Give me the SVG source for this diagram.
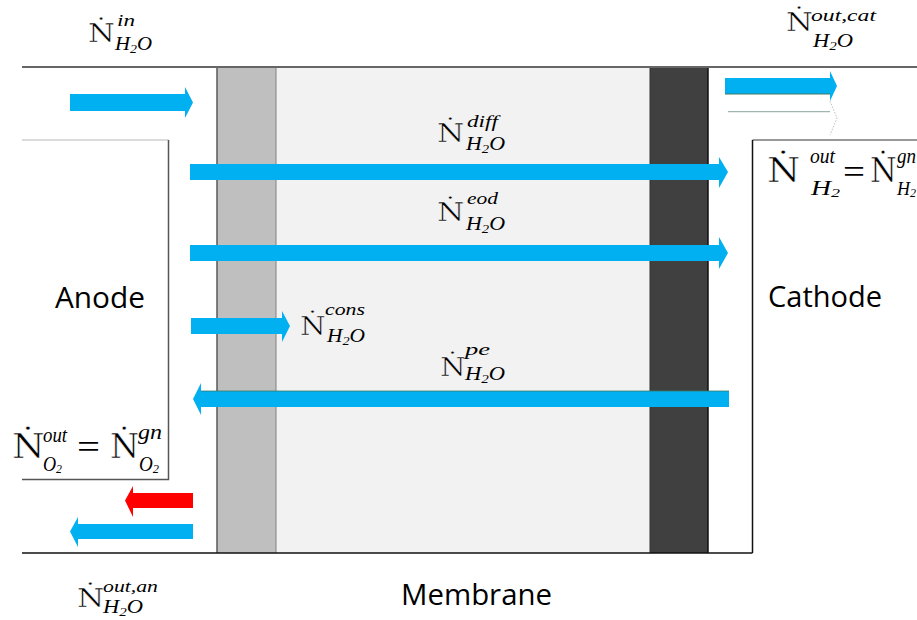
<svg xmlns="http://www.w3.org/2000/svg" width="917" height="620" viewBox="0 0 917 620">
<style>
.m{font-family:"Liberation Serif","Times New Roman",serif;fill:#000}
.i{font-style:italic}
.n{font-family:"DejaVu Serif",serif;fill:#000;font-size:26px;stroke:#fff;stroke-width:0.45px}
.N{font-family:"DejaVu Serif",serif;fill:#000;font-size:34px;stroke:#fff;stroke-width:0.5px}
.s{font-family:"Open Sans","Noto Sans","Liberation Sans",sans-serif;font-size:30px;fill:#000}
.arr{fill:#00b0f0}
.red{fill:#ff0000}
</style>
<rect width="917" height="620" fill="#fff"/>
<g id="layers">
<rect id="anode-gdl" x="217" y="67" width="59" height="486" fill="#bfbfbf"/>
<rect id="membrane" x="276" y="67" width="374" height="486" fill="#f2f2f2"/>
<rect id="cathode-cl" x="650" y="67" width="58" height="486" fill="#404040"/>
<line x1="217" y1="67" x2="217" y2="553" stroke="#595959" stroke-width="1.5"/>
<line x1="276" y1="67" x2="276" y2="553" stroke="#808080" stroke-width="1"/>
<line x1="650" y1="67" x2="650" y2="553" stroke="#333" stroke-width="1"/>
<line x1="708" y1="67" x2="708" y2="553" stroke="#111" stroke-width="1.5"/>
</g>
<g id="walls" fill="none">
<line x1="22" y1="67" x2="917" y2="67" stroke="#666" stroke-width="2"/>
<line x1="22" y1="553" x2="752.5" y2="553" stroke="#111" stroke-width="1.5"/>
<polyline points="22,140 168.5,140" stroke="#cfcfcf" stroke-width="1.5"/>
<polyline points="168.5,140 168.5,479.5 22,479.5" stroke="#555" stroke-width="1.5"/>
<polyline points="917,140 752.5,140" stroke="#777" stroke-width="1.5"/>
<polyline points="752.5,140 752.5,553" stroke="#111" stroke-width="1.5"/>
</g>
<g id="connectors">
<path class="arr" d="M70,94 H185 V87 L193,102.5 L185,118 V111 H70 Z"/>
<path class="arr" d="M190,164 H719 V157 L728,172 L719,188 V180 H190 Z"/>
<path class="arr" d="M190,245 H719 V237 L728,253 L719,269 V261 H190 Z"/>
<path class="arr" d="M191,318 H282 V311 L290,326 L282,342 V334 H191 Z"/>
<path class="arr" d="M729,391 H201 V383 L193,399 L201,415 V407 H729 Z"/>
<line x1="201" y1="391" x2="729" y2="391" stroke="#3f7a66" stroke-width="0.8"/>
<path class="arr" d="M725,78 H830 V71 L837,86 L830,101 V94 H725 Z"/>
<line x1="725" y1="94" x2="830" y2="94" stroke="#3f7a66" stroke-width="1"/>
<line x1="728" y1="111.7" x2="830" y2="111.7" stroke="#9fb8ae" stroke-width="1.2"/>
<polyline points="830,101 837,118 830,135" fill="none" stroke="#b5c2bd" stroke-width="1" stroke-dasharray="1.5,1.5"/>
<path class="red" d="M193,493 H133 V486 L125,500.5 L133,517 V508 H193 Z"/>
<path class="arr" d="M193,524 H78 V517 L70,531.5 L78,547 V539 H193 Z"/>
</g>
<g id="label-in">
<text class="n" transform="translate(88,42) scale(1.18,1)">Ṅ</text>
<text class="m i" x="117" y="26" font-size="17" textLength="18" lengthAdjust="spacingAndGlyphs">in</text>
<text class="m i" x="115" y="50" font-size="18" textLength="37" lengthAdjust="spacingAndGlyphs">H<tspan font-size="12" dy="3">2</tspan><tspan dy="-3">O</tspan></text>
</g>
<g id="label-out-cat">
<text class="n" transform="translate(786,31) scale(1.18,1)">Ṅ</text>
<text class="m i" x="811" y="21" font-size="17" textLength="65" lengthAdjust="spacingAndGlyphs">out,cat</text>
<text class="m i" x="813" y="47" font-size="18" textLength="40" lengthAdjust="spacingAndGlyphs">H<tspan font-size="12" dy="3">2</tspan><tspan dy="-3">O</tspan></text>
</g>
<g id="label-diff">
<text class="n" transform="translate(437,142) scale(1.2,1)">Ṅ</text>
<text class="m i" x="467" y="127" font-size="17" textLength="31" lengthAdjust="spacingAndGlyphs">diff</text>
<text class="m i" x="466" y="150" font-size="18" textLength="39" lengthAdjust="spacingAndGlyphs">H<tspan font-size="12" dy="3">2</tspan><tspan dy="-3">O</tspan></text>
</g>
<g id="label-eod">
<text class="n" transform="translate(437,221) scale(1.2,1)">Ṅ</text>
<text class="m i" x="467" y="204" font-size="17" textLength="31" lengthAdjust="spacingAndGlyphs">eod</text>
<text class="m i" x="466" y="230" font-size="18" textLength="39" lengthAdjust="spacingAndGlyphs">H<tspan font-size="12" dy="3">2</tspan><tspan dy="-3">O</tspan></text>
</g>
<g id="label-cons">
<text class="n" transform="translate(300,335) scale(1.13,1)">Ṅ</text>
<text class="m i" x="325" y="315" font-size="17" textLength="40" lengthAdjust="spacingAndGlyphs">cons</text>
<text class="m i" x="327" y="342" font-size="18" textLength="38" lengthAdjust="spacingAndGlyphs">H<tspan font-size="12" dy="3">2</tspan><tspan dy="-3">O</tspan></text>
</g>
<g id="label-pe">
<text class="n" transform="translate(440,376) scale(1.13,1)">Ṅ</text>
<text class="m i" x="465" y="355" font-size="17" textLength="25" lengthAdjust="spacingAndGlyphs">pe</text>
<text class="m i" x="465" y="380" font-size="18" textLength="40" lengthAdjust="spacingAndGlyphs">H<tspan font-size="12" dy="3">2</tspan><tspan dy="-3">O</tspan></text>
</g>
<g id="label-out-an">
<text class="n" transform="translate(77,607) scale(1.2,1)">Ṅ</text>
<text class="m i" x="103" y="592" font-size="17" textLength="55" lengthAdjust="spacingAndGlyphs">out,an</text>
<text class="m i" x="103" y="613" font-size="18" textLength="40" lengthAdjust="spacingAndGlyphs">H<tspan font-size="12" dy="3">2</tspan><tspan dy="-3">O</tspan></text>
</g>
<g id="label-o2">
<text class="N" transform="translate(12,458) scale(1.1,1)">Ṅ</text>
<text class="m i" x="43" y="442" font-size="20" textLength="24" lengthAdjust="spacingAndGlyphs">out</text>
<text class="m i" x="43" y="471" font-size="20" textLength="19" lengthAdjust="spacingAndGlyphs">O<tspan font-size="13" dy="2">2</tspan></text>
<text class="m" x="77" y="458" font-size="34" textLength="23" lengthAdjust="spacingAndGlyphs">=</text>
<text class="N" transform="translate(110,458) scale(0.98,1)">Ṅ</text>
<text class="m i" x="138" y="439" font-size="20" textLength="24" lengthAdjust="spacingAndGlyphs">gn</text>
<text class="m i" x="139" y="471" font-size="20" textLength="20" lengthAdjust="spacingAndGlyphs">O<tspan font-size="13" dy="2">2</tspan></text>
</g>
<g id="label-h2">
<text class="N" transform="translate(767,182) scale(1.12,1)">Ṅ</text>
<text class="m i" x="810" y="163" font-size="20" textLength="25" lengthAdjust="spacingAndGlyphs">out</text>
<text class="m i" x="811" y="195" font-size="20" textLength="29" lengthAdjust="spacingAndGlyphs">H<tspan font-size="13" dy="2">2</tspan></text>
<text class="m" x="843" y="183" font-size="34" textLength="22" lengthAdjust="spacingAndGlyphs">=</text>
<text class="N" transform="translate(870,182) scale(0.9,1)">Ṅ</text>
<text class="m i" x="897" y="163" font-size="20" textLength="19" lengthAdjust="spacingAndGlyphs">gn</text>
<text class="m i" x="897" y="195" font-size="18">H<tspan font-size="12" dy="2">2</tspan></text>
</g>
<g id="region-labels">
<text id="anode" class="s" x="55" y="308" textLength="90" lengthAdjust="spacingAndGlyphs">Anode</text>
<text id="cathode" class="s" x="768" y="307" textLength="114" lengthAdjust="spacingAndGlyphs">Cathode</text>
<text id="membrane-label" class="s" x="401" y="605" textLength="151" lengthAdjust="spacingAndGlyphs">Membrane</text>
</g>
</svg>
